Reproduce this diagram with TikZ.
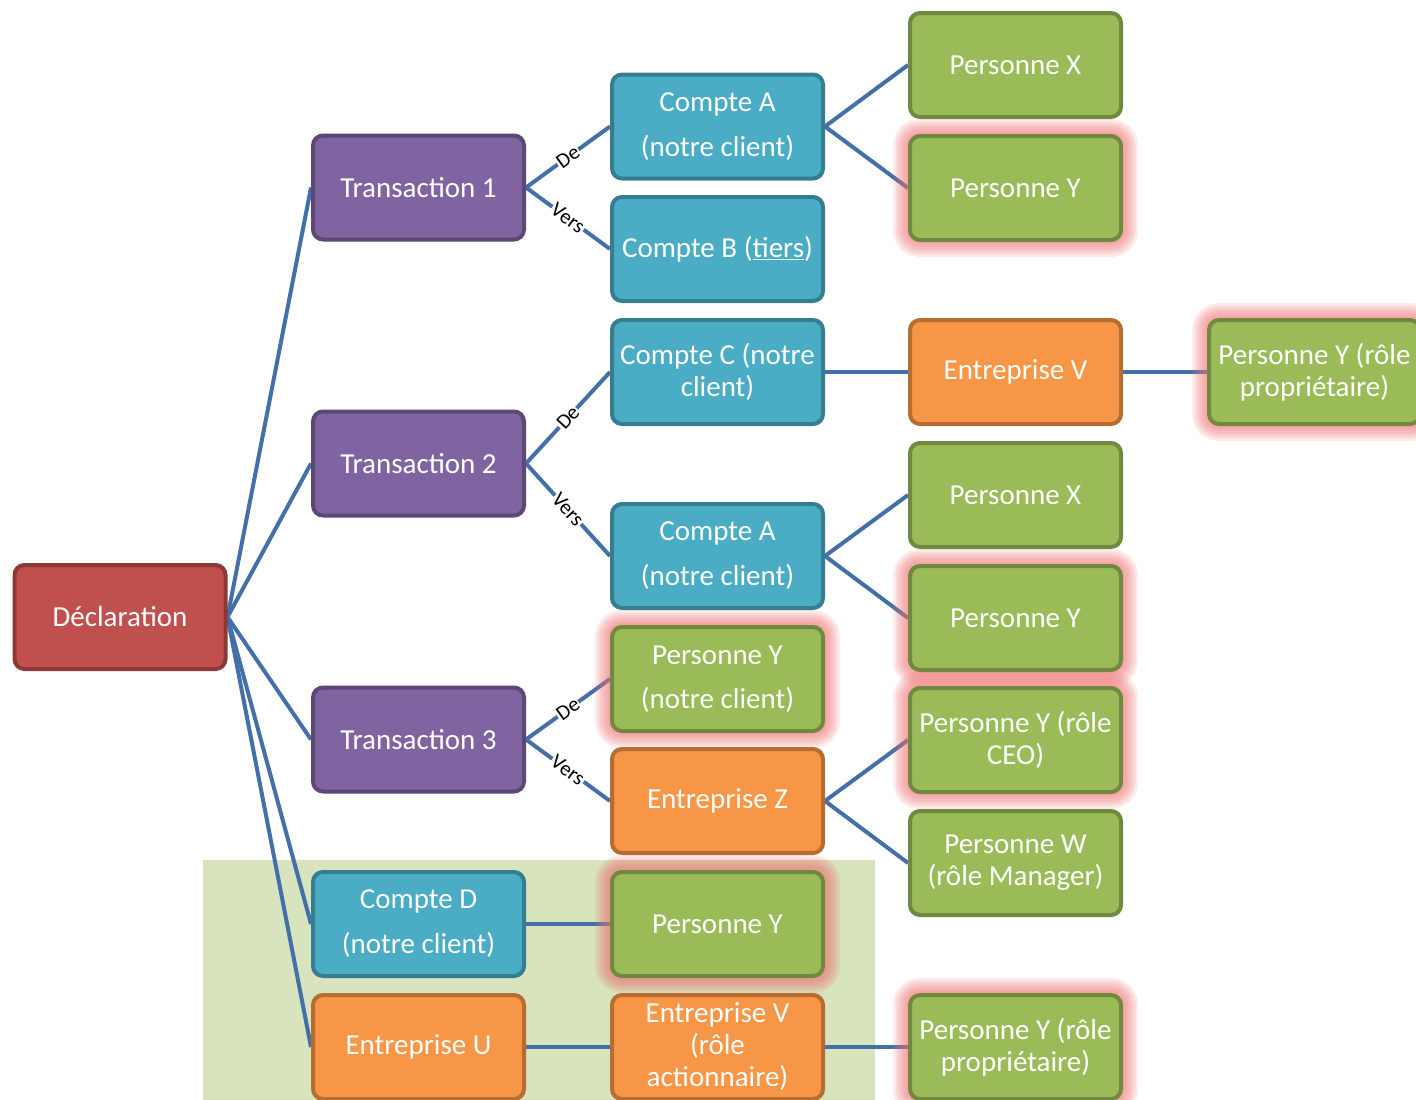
\documentclass[tikz,border=0pt]{standalone}
\usepackage{fontspec}
\setmainfont{Carlito}
\pgfdeclarelayer{back}
\pgfdeclarelayer{edges}
\pgfsetlayers{back,edges,main}
\definecolor{redF}{HTML}{C0504D}\definecolor{redD}{HTML}{8C3836}
\definecolor{purF}{HTML}{8064A2}\definecolor{purD}{HTML}{5C4776}
\definecolor{bluF}{HTML}{4BACC6}\definecolor{bluD}{HTML}{367D92}
\definecolor{grnF}{HTML}{9BBB59}\definecolor{grnD}{HTML}{71893F}
\definecolor{orgF}{HTML}{F79646}\definecolor{orgD}{HTML}{B66D31}
\definecolor{edgeC}{HTML}{4470AA}
\definecolor{bgC}{HTML}{D7E4BD}
\definecolor{glowC}{HTML}{EE6E6E}
\tikzset{
  box/.style={draw, rounded corners=10pt, line width=4pt, minimum width=211pt,
    minimum height=104pt, inner sep=2pt, align=center, text=white,
    font=\fontsize{29}{32}\selectfont},
  redbox/.style={box, fill=redF, draw=redD},
  purbox/.style={box, fill=purF, draw=purD},
  blubox/.style={box, fill=bluF, draw=bluD},
  grnbox/.style={box, fill=grnF, draw=grnD},
  orgbox/.style={box, fill=orgF, draw=orgD},
  glow/.style={preaction={draw=glowC, line width=34pt, draw opacity=0.14},
               preaction={draw=glowC, line width=29pt, draw opacity=0.14},
               preaction={draw=glowC, line width=24pt, draw opacity=0.14},
               preaction={draw=glowC, line width=19pt, draw opacity=0.14},
               preaction={draw=glowC, line width=14pt, draw opacity=0.14},
               preaction={draw=glowC, line width=9pt, draw opacity=0.14}},
  link/.style={draw=edgeC, line width=4pt},
  lab/.style={sloped, fill=white, inner sep=1pt, text=black,
    font=\fontsize{21}{22}\selectfont}
}
\begin{document}
\begin{tikzpicture}[x=1pt,y=-1pt]
\useasboundingbox (0,0) rectangle (1416,1100);
\clip (0,0) rectangle (1416,1100);
\begin{pgfonlayer}{back}
\fill[bgC] (203,860) rectangle (875,1100);
\end{pgfonlayer}
% column 0/1
\node[redbox] (decl) at (120,617) {Déclaration};
\node[purbox] (t1) at (418.5,187.5) {Transaction 1};
\node[purbox] (t2) at (418.5,463.5) {Transaction 2};
\node[purbox] (t3) at (418.5,739.5) {Transaction 3};
\node[blubox] (cd) at (418.5,924) {Compte D\\[13pt](notre client)};
\node[orgbox] (eu) at (418.5,1047) {Entreprise U};
% column 2
\node[blubox] (ca1) at (717.5,126.5) {Compte A\\[13pt](notre client)};
\node[blubox] (cb) at (717.5,249) {Compte B (\underline{tiers})};
\node[blubox] (cc) at (717.5,372) {Compte C (notre\\client)};
\node[blubox] (ca2) at (717.5,556) {Compte A\\[13pt](notre client)};
\node[grnbox,glow] (pyc) at (717.5,679) {Personne Y\\[12pt](notre client)};
\node[orgbox] (ez) at (717.5,801) {Entreprise Z};
\node[grnbox,glow] (py4) at (717.5,924) {Personne Y};
\node[orgbox] (ev2) at (717.5,1047) {Entreprise V\\(rôle\\actionnaire)};
% column 3
\node[grnbox] (px1) at (1015.5,65) {Personne X};
\node[grnbox,glow] (py1) at (1015.5,188) {Personne Y};
\node[orgbox] (ev) at (1015.5,372) {Entreprise V};
\node[grnbox] (px2) at (1015.5,495) {Personne X};
\node[grnbox,glow] (py2) at (1015.5,618) {Personne Y};
\node[grnbox,glow] (pyceo) at (1015.5,740) {Personne Y (rôle\\CEO)};
\node[grnbox] (pw) at (1015.5,863) {Personne W\\(rôle Manager)};
\node[grnbox,glow] (pyp2) at (1015.5,1047) {Personne Y (rôle\\propriétaire)};
% column 4
\node[grnbox,glow] (pyp) at (1314.5,372) {Personne Y (rôle\\propriétaire)};
\begin{pgfonlayer}{edges}
\draw[link] (decl.east) -- (t1.west);
\draw[link] (decl.east) -- (t2.west);
\draw[link] (decl.east) -- (t3.west);
\draw[link] (decl.east) -- (cd.west);
\draw[link] (decl.east) -- (eu.west);
\draw[link] (t1.east) -- node[lab] {De} (ca1.west);
\draw[link] (t1.east) -- node[lab] {Vers} (cb.west);
\draw[link] (t2.east) -- node[lab] {De} (cc.west);
\draw[link] (t2.east) -- node[lab] {Vers} (ca2.west);
\draw[link] (t3.east) -- node[lab] {De} (pyc.west);
\draw[link] (t3.east) -- node[lab] {Vers} (ez.west);
\draw[link] (ca1.east) -- (px1.west);
\draw[link] (ca1.east) -- (py1.west);
\draw[link] (cc.east) -- (ev.west);
\draw[link] (ev.east) -- (pyp.west);
\draw[link] (ca2.east) -- (px2.west);
\draw[link] (ca2.east) -- (py2.west);
\draw[link] (ez.east) -- (pyceo.west);
\draw[link] (ez.east) -- (pw.west);
\draw[link] (cd.east) -- (py4.west);
\draw[link] (eu.east) -- (ev2.west);
\draw[link] (ev2.east) -- (pyp2.west);
\end{pgfonlayer}
\end{tikzpicture}
\end{document}
